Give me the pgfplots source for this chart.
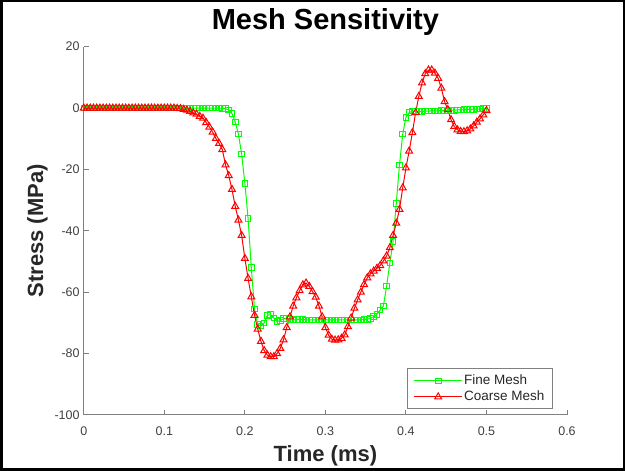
\documentclass[border=0pt]{standalone}
\usepackage{fontspec}
\setmainfont{Liberation Sans}
\usepackage{pgfplots}
\usepackage{pgfplotstable}
\pgfplotsset{compat=1.18}
\definecolor{axgray}{RGB}{128,128,128}
\definecolor{lblgray}{RGB}{64,64,64}
\definecolor{fgreen}{RGB}{0,255,0}
\definecolor{cred}{RGB}{255,0,0}

\pgfplotstableread{
x y
0.000 0
0.004 0
0.008 0
0.012 0
0.016 0
0.020 0
0.024 0
0.028 0
0.032 0
0.036 0
0.040 0
0.044 0
0.048 0
0.052 0
0.056 0
0.060 0
0.064 0
0.068 0
0.072 0
0.076 0
0.080 0
0.084 0
0.088 0
0.092 0
0.096 0
0.100 0
0.104 0
0.108 0
0.112 0
0.116 0
0.120 0
0.124 0
0.128 0
0.132 0
0.136 0
0.140 0
0.144 0
0.148 0
0.152 0
0.156 0
0.160 0
0.164 0
0.168 0
0.172 -0.1
0.176 -0.2
0.180 -0.6
0.184 -1.8
0.188 -4.5
0.192 -8.5
0.196 -15
0.200 -24.5
0.204 -36
0.208 -52
0.212 -65.5
0.216 -70.5
0.220 -71
0.224 -70
0.228 -67.5
0.232 -67.3
0.236 -68.4
0.240 -69.6
0.244 -69.2
0.248 -68.6
0.252 -68.6
0.256 -68.9
0.260 -69.1
0.264 -68.9
0.268 -68.8
0.272 -68.9
0.276 -69.0
0.280 -69.0
0.284 -69.0
0.288 -69.0
0.292 -69.0
0.296 -69.0
0.300 -69.0
0.304 -69.0
0.308 -69.0
0.312 -69.0
0.316 -69.0
0.320 -69.0
0.324 -69.0
0.328 -69.0
0.332 -69.0
0.336 -69.0
0.340 -69.0
0.344 -69.0
0.348 -68.9
0.352 -68.8
0.356 -68.5
0.360 -68.0
0.364 -67.2
0.368 -65.8
0.372 -64.5
0.376 -58
0.380 -50.5
0.384 -43.5
0.388 -31
0.392 -18.5
0.396 -8.5
0.400 -3.0
0.404 -1.5
0.408 -1.0
0.412 -1.1
0.416 -1.2
0.420 -1.1
0.424 -1.0
0.428 -1.0
0.432 -0.9
0.436 -0.9
0.440 -0.9
0.444 -0.8
0.448 -0.8
0.452 -0.8
0.456 -0.7
0.460 -0.7
0.464 -0.6
0.468 -0.6
0.472 -0.5
0.476 -0.5
0.480 -0.4
0.484 -0.4
0.488 -0.3
0.492 -0.3
0.496 -0.2
0.500 -0.2
}\finedata

\pgfplotstableread{
x y
0.000 0
0.004 0
0.008 0
0.012 0
0.016 0
0.020 0
0.024 0
0.028 0
0.032 0
0.036 0
0.040 0
0.044 0
0.048 0
0.052 0
0.056 0
0.060 0
0.064 0
0.068 0
0.072 0
0.076 0
0.080 0
0.084 0
0.088 0
0.092 0
0.096 0
0.100 0
0.104 0
0.108 0
0.112 0
0.116 -0.1
0.120 -0.2
0.124 -0.4
0.128 -0.7
0.132 -1.1
0.136 -1.6
0.140 -2.0
0.144 -2.7
0.148 -3.3
0.152 -4.7
0.156 -6.2
0.160 -7.8
0.164 -9.9
0.168 -11.5
0.172 -13.5
0.176 -18.5
0.180 -22
0.184 -26.5
0.188 -32
0.192 -36.5
0.196 -41.5
0.200 -49
0.204 -55.5
0.208 -61.5
0.212 -67.5
0.216 -72
0.220 -76
0.224 -79
0.228 -80.5
0.232 -81
0.236 -81
0.240 -80
0.244 -78.3
0.248 -75.5
0.252 -71.5
0.256 -68
0.260 -64.5
0.264 -61.8
0.268 -59.5
0.272 -57.6
0.276 -57
0.280 -58.1
0.284 -59.8
0.288 -61.6
0.292 -64.5
0.296 -68
0.300 -71.5
0.304 -74
0.308 -75.3
0.312 -75.6
0.316 -75.5
0.320 -75
0.324 -73.9
0.328 -71.2
0.332 -68.4
0.336 -65.2
0.340 -62.5
0.344 -60
0.348 -57.5
0.352 -55.3
0.356 -54
0.360 -53.1
0.364 -52.2
0.368 -51.3
0.372 -49.8
0.376 -48.2
0.380 -45.5
0.384 -41.5
0.388 -37.5
0.392 -33
0.396 -26
0.400 -19.5
0.404 -14
0.408 -8
0.412 -1.5
0.416 3.8
0.420 8.2
0.424 11.2
0.428 12.4
0.432 12.4
0.436 11.4
0.440 9.7
0.444 6.5
0.448 2.1
0.452 -0.5
0.456 -3.8
0.460 -6
0.464 -7.1
0.468 -7.6
0.472 -7.7
0.476 -7.4
0.480 -6.8
0.484 -5.8
0.488 -4.6
0.492 -3.5
0.496 -2.2
0.500 -0.8
}\coarsedata

\begin{document}
\begin{tikzpicture}
\begin{axis}[
  at={(83.8bp,56bp)}, anchor=south west,
  scale only axis, width=483.2bp, height=368.3bp,
  xmin=0, xmax=0.6, ymin=-100, ymax=20,
  xtick={0,0.1,...,0.6}, ytick={-100,-80,...,20},
  axis x line*=bottom, axis y line*=left,
  x axis line style={-, axgray, line width=1bp},
  y axis line style={-, axgray, line width=1bp},
  tick align=inside, major tick length=5bp,
  every tick/.style={axgray, line width=1bp},
  /pgf/number format/assume math mode=true,
  /pgf/number format/fixed,
  xticklabel style={font=\fontsize{12.5bp}{15bp}\selectfont, text=lblgray, inner sep=0pt, anchor=north, yshift=-12bp},
  yticklabel style={font=\fontsize{12.5bp}{15bp}\selectfont, text=lblgray, inner sep=0pt, anchor=east, xshift=-4bp},
  title={Mesh Sensitivity},
  title style={font=\fontsize{29bp}{35bp}\selectfont\bfseries, at={(axis description cs:0.5,1)}, anchor=base, yshift=11.5bp, inner sep=0pt},
  xlabel={Time (ms)},
  xlabel style={font=\fontsize{22bp}{26bp}\selectfont\bfseries, text=lblgray!60!black, at={(axis description cs:0.5,0)}, anchor=base, yshift=-46.7bp, inner sep=0pt},
  ylabel={Stress (MPa)},
  ylabel style={font=\fontsize{22bp}{26bp}\selectfont\bfseries, text=lblgray!60!black, at={(axis description cs:-0.0844,0.5)}, anchor=base, inner sep=0pt},
  legend style={at={(axis description cs:0.6695,0.1263)}, anchor=north west,
    draw=axgray, line width=0.8bp, fill=white,
    font=\fontsize{13.5bp}{16bp}\selectfont, text=lblgray!60!black,
    inner xsep=6bp, inner ysep=4bp, row sep=0bp,
    nodes={inner sep=1.5bp, text height=10bp, text depth=3bp}},
  legend cell align=left,
  legend image code/.code={\draw[mark repeat=2,mark phase=2] plot coordinates {(0bp,0bp) (24bp,0bp) (48bp,0bp)};},
]
\addplot[fgreen, line width=1bp, mark=square, mark size=2.8bp, mark options={solid, line width=1bp}] table[x=x,y=y] {\finedata};
\addlegendentry{Fine Mesh}
\addplot[cred, line width=1bp, mark=triangle, mark size=4bp, mark options={solid, line width=1bp}] table[x=x,y=y] {\coarsedata};
\addlegendentry{Coarse Mesh}
\end{axis}
\draw[black, line width=2.5bp] (1.25bp,1.25bp) rectangle (623.75bp,469.75bp);
\pgfresetboundingbox
\path[use as bounding box] (0,0) rectangle (625bp,471bp);
\end{tikzpicture}
\end{document}
